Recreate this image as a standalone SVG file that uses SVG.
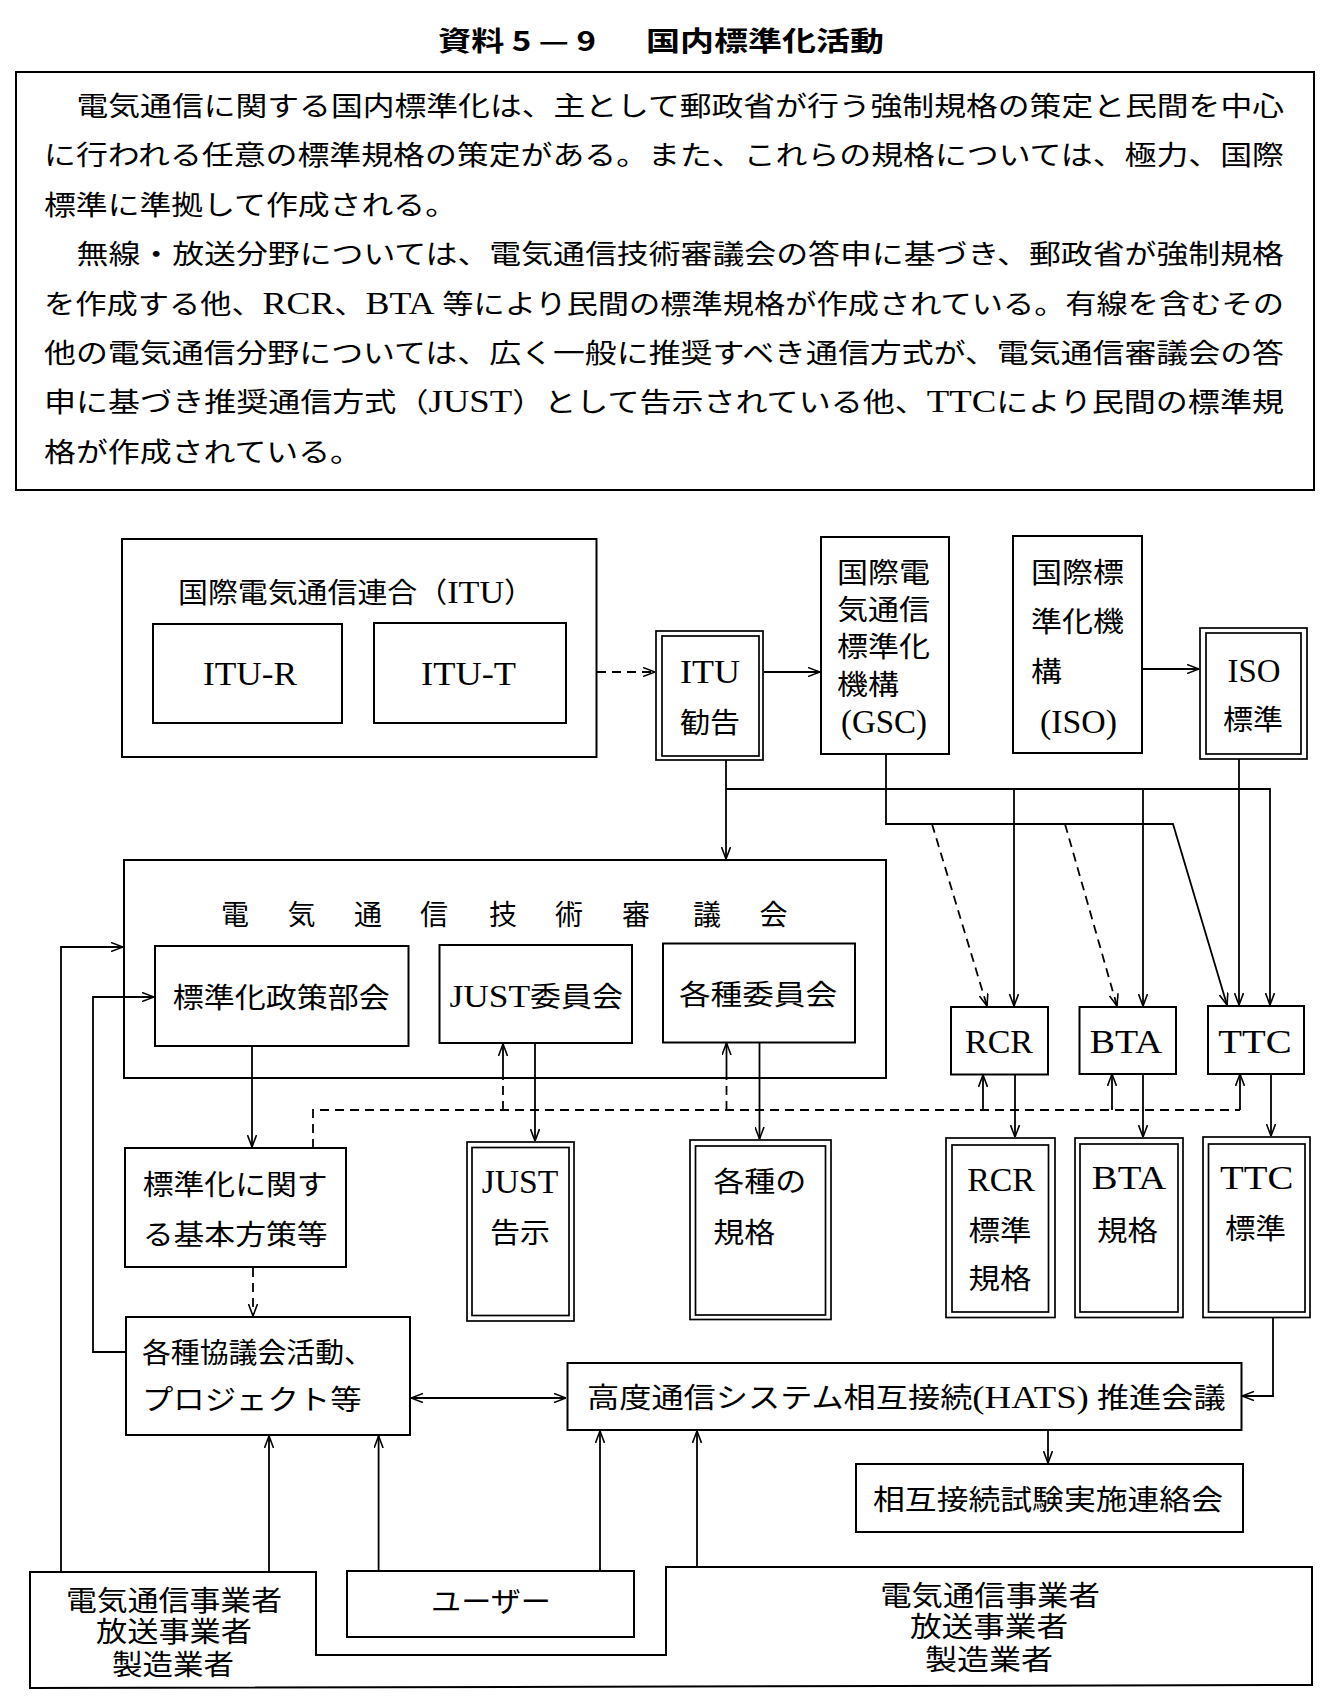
<svg xmlns="http://www.w3.org/2000/svg" width="1333" height="1706" viewBox="0 0 1333 1706">
<style>
.b{fill:none;stroke:#000;stroke-width:2}
.b2{fill:none;stroke:#000;stroke-width:1.7}
.l{fill:none;stroke:#000;stroke-width:1.8}
.d{stroke-dasharray:9 6}
.a{marker-end:url(#ah)}
.aa{marker-start:url(#ah);marker-end:url(#ah)}
text{font-family:"Liberation Serif","Noto Sans CJK JP",serif;fill:#000}
.j{font-size:28px}
.p{font-size:27px}
.L{font-size:34px}
.lt{font-size:32px}
.pl{font-size:31px}
.ttl{font-family:"Noto Sans CJK JP",sans-serif;font-weight:bold;font-size:27px}
.m{text-anchor:middle}
</style>
<defs>
<marker id="ah" viewBox="0 0 12 10" refX="12" refY="5" markerWidth="12" markerHeight="10" markerUnits="userSpaceOnUse" orient="auto-start-reverse">
<path d="M0,0.5 L12,5 L0,9.5" fill="none" stroke="#000" stroke-width="1.6"/>
</marker>
</defs>
<rect width="1333" height="1706" fill="#fff"/>

<g id="title">
<text class="ttl" x="438" y="51" textLength="158" lengthAdjust="spacingAndGlyphs">資料 5 — 9</text>
<text class="ttl" x="646" y="51" textLength="238" lengthAdjust="spacingAndGlyphs">国内標準化活動</text>
</g>

<g id="summary">
<rect class="b" x="16" y="72" width="1298" height="418"/>
<text class="p" x="76.5" y="116" textLength="1207.5" lengthAdjust="spacingAndGlyphs">電気通信に関する国内標準化は、主として郵政省が行う強制規格の策定と民間を中心</text>
<text class="p" x="44" y="165" textLength="1240" lengthAdjust="spacingAndGlyphs">に行われる任意の標準規格の策定がある。また、これらの規格については、極力、国際</text>
<text class="p" x="44" y="215" textLength="413" lengthAdjust="spacingAndGlyphs">標準に準拠して作成される。</text>
<text class="p" x="76.5" y="264" textLength="1207.5" lengthAdjust="spacingAndGlyphs">無線・放送分野については、電気通信技術審議会の答申に基づき、郵政省が強制規格</text>
<text class="p" x="44" y="314" textLength="1240" lengthAdjust="spacingAndGlyphs">を作成する他、<tspan class="pl">RCR</tspan>、<tspan class="pl">BTA</tspan> 等により民間の標準規格が作成されている。有線を含むその</text>
<text class="p" x="44" y="363" textLength="1240" lengthAdjust="spacingAndGlyphs">他の電気通信分野については、広く一般に推奨すべき通信方式が、電気通信審議会の答</text>
<text class="p" x="44" y="412" textLength="1240" lengthAdjust="spacingAndGlyphs">申に基づき推奨通信方式（<tspan class="pl">JUST</tspan>）として告示されている他、<tspan class="pl">TTC</tspan>により民間の標準規</text>
<text class="p" x="44" y="462" textLength="318" lengthAdjust="spacingAndGlyphs">格が作成されている。</text>
</g>

<g id="itu">
<rect class="b" x="122" y="539" width="474.5" height="218"/>
<text class="j" x="178" y="603" textLength="356" lengthAdjust="spacingAndGlyphs">国際電気通信連合（<tspan class="lt">ITU</tspan>）</text>
</g>
<g id="itu-r">
<rect class="b" x="153" y="624" width="189" height="99"/>
<text class="L m" x="250" y="685" textLength="94" lengthAdjust="spacingAndGlyphs">ITU-R</text>
</g>
<g id="itu-t">
<rect class="b" x="374" y="623" width="192" height="100"/>
<text class="L m" x="468.6" y="685" textLength="95" lengthAdjust="spacingAndGlyphs">ITU-T</text>
</g>
<g id="itu-rec">
<rect class="b2" x="656" y="631" width="107" height="129"/>
<rect class="b2" x="662" y="636" width="97" height="120"/>
<text class="L m" x="710" y="683" textLength="60" lengthAdjust="spacingAndGlyphs">ITU</text>
<text class="j m" x="710" y="733" textLength="60" lengthAdjust="spacingAndGlyphs">勧告</text>
</g>
<g id="gsc">
<rect class="b" x="821" y="537" width="128" height="217"/>
<text class="j" x="837" y="583" textLength="93" lengthAdjust="spacingAndGlyphs">国際電</text>
<text class="j" x="837" y="620" textLength="93" lengthAdjust="spacingAndGlyphs">気通信</text>
<text class="j" x="837" y="657" textLength="93" lengthAdjust="spacingAndGlyphs">標準化</text>
<text class="j" x="837" y="695" textLength="62" lengthAdjust="spacingAndGlyphs">機構</text>
<text class="L" x="841" y="733" textLength="86" lengthAdjust="spacingAndGlyphs">(GSC)</text>
</g>
<g id="iso">
<rect class="b" x="1013" y="536" width="129" height="217"/>
<text class="j" x="1031" y="583" textLength="93" lengthAdjust="spacingAndGlyphs">国際標</text>
<text class="j" x="1031" y="632" textLength="93" lengthAdjust="spacingAndGlyphs">準化機</text>
<text class="j" x="1031" y="682" textLength="31" lengthAdjust="spacingAndGlyphs">構</text>
<text class="L" x="1040" y="733" textLength="77" lengthAdjust="spacingAndGlyphs">(ISO)</text>
</g>
<g id="iso-std">
<rect class="b2" x="1200" y="628" width="107" height="131"/>
<rect class="b2" x="1206" y="633" width="95" height="121"/>
<text class="L m" x="1254" y="682" textLength="53" lengthAdjust="spacingAndGlyphs">ISO</text>
<text class="j m" x="1253" y="730" textLength="60" lengthAdjust="spacingAndGlyphs">標準</text>
</g>

<g id="council">
<rect class="b" x="124" y="860" width="762" height="218"/>
<text class="j m" x="235 301.5 368 434 503 569 636 707 773.5" y="925">電気通信技術審議会</text>
</g>
<g id="policy">
<rect class="b" x="155" y="946" width="253.5" height="100"/>
<text class="j" x="172.7" y="1008" textLength="217" lengthAdjust="spacingAndGlyphs">標準化政策部会</text>
</g>
<g id="just-comm">
<rect class="b" x="439.5" y="945" width="192.5" height="98"/>
<text class="j" x="449.5" y="1007" textLength="173.5" lengthAdjust="spacingAndGlyphs"><tspan class="lt">JUST</tspan>委員会</text>
</g>
<g id="various-comm">
<rect class="b" x="663" y="943.5" width="192" height="99"/>
<text class="j" x="679" y="1005" textLength="158" lengthAdjust="spacingAndGlyphs">各種委員会</text>
</g>

<g id="rcr">
<rect class="b" x="951" y="1007" width="97" height="67.5"/>
<text class="L m" x="999" y="1053" textLength="68" lengthAdjust="spacingAndGlyphs">RCR</text>
</g>
<g id="bta">
<rect class="b" x="1079.5" y="1007" width="96.5" height="67"/>
<text class="L m" x="1126" y="1053" textLength="72.7" lengthAdjust="spacingAndGlyphs">BTA</text>
</g>
<g id="ttc">
<rect class="b" x="1208" y="1006" width="96" height="68"/>
<text class="L m" x="1255" y="1053" textLength="73.3" lengthAdjust="spacingAndGlyphs">TTC</text>
</g>

<g id="basic-policy">
<rect class="b" x="125" y="1148" width="221" height="119"/>
<text class="j" x="142.7" y="1195" textLength="185" lengthAdjust="spacingAndGlyphs">標準化に関す</text>
<text class="j" x="142.7" y="1245" textLength="185" lengthAdjust="spacingAndGlyphs">る基本方策等</text>
</g>
<g id="just-notice">
<rect class="b2" x="467" y="1142" width="107" height="179"/>
<rect class="b2" x="472" y="1147.5" width="97" height="168"/>
<text class="L m" x="520" y="1193" textLength="76.7" lengthAdjust="spacingAndGlyphs">JUST</text>
<text class="j m" x="520" y="1243" textLength="60" lengthAdjust="spacingAndGlyphs">告示</text>
</g>
<g id="various-std">
<rect class="b2" x="690" y="1140" width="141" height="179.5"/>
<rect class="b2" x="695.5" y="1146" width="130" height="169"/>
<text class="j" x="713.3" y="1192" textLength="93" lengthAdjust="spacingAndGlyphs">各種の</text>
<text class="j" x="713.3" y="1243" textLength="62" lengthAdjust="spacingAndGlyphs">規格</text>
</g>
<g id="rcr-std">
<rect class="b2" x="946" y="1138" width="109" height="179.5"/>
<rect class="b2" x="952" y="1145" width="96.5" height="167"/>
<text class="L m" x="1001" y="1191" textLength="67.7" lengthAdjust="spacingAndGlyphs">RCR</text>
<text class="j m" x="1000" y="1241" textLength="63" lengthAdjust="spacingAndGlyphs">標準</text>
<text class="j m" x="1000" y="1289" textLength="63" lengthAdjust="spacingAndGlyphs">規格</text>
</g>
<g id="bta-std">
<rect class="b2" x="1075" y="1138" width="108" height="179.5"/>
<rect class="b2" x="1080" y="1144" width="98" height="168"/>
<text class="L m" x="1129" y="1189" textLength="74.3" lengthAdjust="spacingAndGlyphs">BTA</text>
<text class="j m" x="1127.5" y="1241" textLength="61" lengthAdjust="spacingAndGlyphs">規格</text>
</g>
<g id="ttc-std">
<rect class="b2" x="1203" y="1137" width="107" height="180.5"/>
<rect class="b2" x="1208.5" y="1144" width="96.5" height="168"/>
<text class="L m" x="1256.7" y="1189" textLength="73.3" lengthAdjust="spacingAndGlyphs">TTC</text>
<text class="j m" x="1255.5" y="1239" textLength="61" lengthAdjust="spacingAndGlyphs">標準</text>
</g>

<g id="councils-activities">
<rect class="b" x="126" y="1317" width="284" height="118"/>
<text class="j" x="142" y="1363" textLength="231" lengthAdjust="spacingAndGlyphs">各種協議会活動、</text>
<text class="j" x="142" y="1410" textLength="219.6" lengthAdjust="spacingAndGlyphs">プロジェクト等</text>
</g>
<g id="hats">
<rect class="b" x="567.5" y="1363" width="674" height="67"/>
<text class="j" x="587" y="1408" textLength="638.7" lengthAdjust="spacingAndGlyphs">高度通信システム相互接続<tspan class="lt">(HATS)</tspan> 推進会議</text>
</g>
<g id="interop-test">
<rect class="b" x="856" y="1464" width="387" height="68"/>
<text class="j" x="873" y="1510" textLength="350" lengthAdjust="spacingAndGlyphs">相互接続試験実施連絡会</text>
</g>
<g id="user">
<rect class="b" x="347" y="1571" width="287" height="66"/>
<text class="j m" x="491" y="1612" textLength="120" lengthAdjust="spacingAndGlyphs">ユーザー</text>
</g>
<g id="operators">
<path class="b" d="M30,1572 L316,1572 L316,1655 L666,1655 L666,1567 L1312,1567 L1312,1685 L30,1688 Z"/>
<text class="j m" x="174" y="1611" textLength="216" lengthAdjust="spacingAndGlyphs">電気通信事業者</text>
<text class="j m" x="174" y="1642" textLength="156" lengthAdjust="spacingAndGlyphs">放送事業者</text>
<text class="j m" x="173" y="1675" textLength="122" lengthAdjust="spacingAndGlyphs">製造業者</text>
<text class="j m" x="990" y="1606" textLength="219.5" lengthAdjust="spacingAndGlyphs">電気通信事業者</text>
<text class="j m" x="989" y="1637" textLength="158" lengthAdjust="spacingAndGlyphs">放送事業者</text>
<text class="j m" x="989" y="1670" textLength="128" lengthAdjust="spacingAndGlyphs">製造業者</text>
</g>

<g id="connectors">
<line class="l d a" x1="597" y1="672" x2="655" y2="672"/>
<line class="l a" x1="764" y1="672" x2="820" y2="672"/>
<line class="l a" x1="1142" y1="669" x2="1199" y2="669"/>
<line class="l a" x1="726" y1="760" x2="726" y2="859"/>
<polyline class="l a" points="726,789 1270,789 1270,1005"/>
<line class="l a" x1="1014" y1="789" x2="1014" y2="1006"/>
<line class="l a" x1="1143" y1="789" x2="1143" y2="1006"/>
<line class="l a" x1="1239" y1="759" x2="1239" y2="1005"/>
<polyline class="l a" points="886,754 886,824 1173,824 1227,1005"/>
<line class="l d a" x1="932" y1="824" x2="987" y2="1006"/>
<line class="l d a" x1="1065" y1="824" x2="1117" y2="1006"/>
<polyline class="l a" points="61,1572 61,947 123,947"/>
<polyline class="l a" points="126,1352 93,1352 93,997 154,997"/>
<line class="l a" x1="252" y1="1046" x2="252" y2="1147"/>
<line class="l d a" x1="253" y1="1268" x2="253" y2="1316"/>
<polyline class="l d" points="313,1148 313,1110 1240,1110"/>
<line class="l d" x1="503" y1="1110" x2="503" y2="1078"/>
<line class="l a" x1="503" y1="1078" x2="503" y2="1044"/>
<line class="l d" x1="726.5" y1="1110" x2="726.5" y2="1078"/>
<line class="l a" x1="726.5" y1="1078" x2="726.5" y2="1043"/>
<line class="l a" x1="983" y1="1110" x2="983" y2="1075"/>
<line class="l a" x1="1112" y1="1110" x2="1112" y2="1074"/>
<line class="l a" x1="1240" y1="1110" x2="1240" y2="1074"/>
<line class="l a" x1="535" y1="1043" x2="535" y2="1141"/>
<line class="l a" x1="759.5" y1="1042" x2="759.5" y2="1139"/>
<line class="l a" x1="1015" y1="1075" x2="1015" y2="1137"/>
<line class="l a" x1="1143" y1="1074" x2="1143" y2="1137"/>
<line class="l a" x1="1271" y1="1074" x2="1271" y2="1136"/>
<polyline class="l a" points="1273,1318 1273,1396 1242,1396"/>
<line class="l a" x1="1048" y1="1430" x2="1048" y2="1463"/>
<line class="l aa" x1="411" y1="1398" x2="566" y2="1398"/>
<line class="l a" x1="269" y1="1572" x2="269" y2="1436"/>
<line class="l a" x1="378.6" y1="1571" x2="378.6" y2="1436"/>
<line class="l a" x1="600" y1="1571" x2="600" y2="1431"/>
<line class="l a" x1="697" y1="1567" x2="697" y2="1431"/>
</g>
</svg>
